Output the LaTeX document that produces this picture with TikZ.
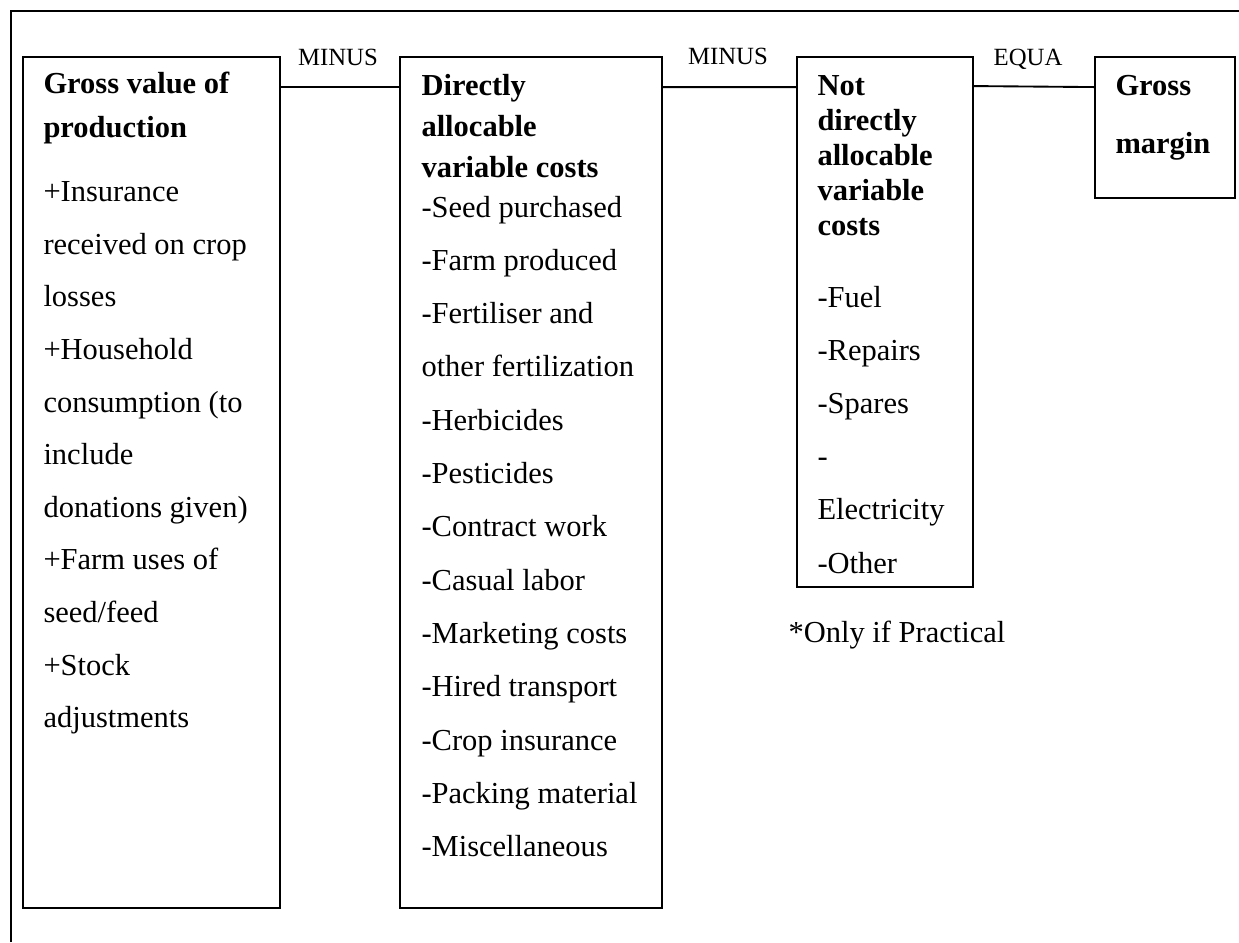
\documentclass[tikz,border=0pt]{standalone}
\usepackage{fontspec}
\setmainfont{Liberation Serif}
\usetikzlibrary{calc}
\begin{document}
\begin{tikzpicture}[x=0.4pt,y=-0.4pt,
  box/.style={draw,line width=0.75pt,rectangle,inner sep=0pt},
  txt/.style={anchor=base west,inner sep=0pt,font=\fontsize{12.2pt}{14pt}\selectfont},
  head/.style={txt,font=\fontsize{12.2pt}{14pt}\selectfont\bfseries},
  lbl/.style={anchor=base,inner sep=0pt,font=\fontsize{9.9pt}{12pt}\selectfont},
  link/.style={draw,line width=0.75pt}]
\useasboundingbox (0,0) rectangle (1239,942);
% outer frame
\draw[line width=0.75pt] (11,942) -- (11,11) -- (1239,11);
% boxes
\node[box,minimum width=102.8pt,minimum height=340.4pt] (b1) at (151.5,482.5) {};
\node[box,minimum width=104.8pt,minimum height=340.4pt] (b2) at (531,482.5) {};
\node[box,minimum width=70.4pt,minimum height=212pt] (b3) at (885,322) {};
\node[box,minimum width=56pt,minimum height=56.4pt] (b4) at (1165,127.5) {};
% connectors
\draw[link] ($(b1.north east)+(0,31)$) -- ($(b2.north west)+(0,31)$);
\draw[link] ($(b2.north east)+(0,31)$) -- ($(b3.north west)+(0,31)$);
\draw[link] ($(b3.north east)+(0,30)$) -- ($(b4.north west)+(0,31)$);
% connector labels
\node[lbl] (m1) at (338,65) {MINUS};
\node[lbl] (m2) at (728,64) {MINUS};
\node[lbl] (eq) at (1028,65) {EQUA};
% box 1
\node[head] (h1a) at (43,93) {Gross value of};
\node[head] (h1b) at (43,137) {production};
\foreach \t [count=\i] in {+Insurance,received on crop,losses,+Household,consumption (to,include,donations given),+Farm uses of,seed/feed,+Stock,adjustments}
  \node[txt] (a\i) at (43,{201.7+52.6*(\i-1)}) {\t};
% box 2
\node[head] (h2a) at (421,95) {Directly};
\node[head] (h2b) at (421,136) {allocable};
\node[head] (h2c) at (421,177) {variable costs};
\foreach \t [count=\i] in {-Seed purchased,-Farm produced,-Fertiliser and,other fertilization,-Herbicides,-Pesticides,-Contract work,-Casual labor,-Marketing costs,-Hired transport,-Crop insurance,-Packing material,-Miscellaneous}
  \node[txt] (c\i) at (421,{217+53.3*(\i-1)}) {\t};
% box 3
\foreach \t [count=\i] in {Not,directly,allocable,variable,costs}
  \node[head] (h3\i) at (817,{95+35*(\i-1)}) {\t};
\foreach \t [count=\i] in {-Fuel,-Repairs,-Spares,-,Electricity,-Other}
  \node[txt] (n\i) at (817,{307+53.2*(\i-1)}) {\t};
% box 4
\node[head] (h4a) at (1115,95) {Gross};
\node[head] (h4b) at (1115,153) {margin};
% footnote
\node[txt] (fn) at (788,642) {*Only if Practical};
\end{tikzpicture}
\end{document}
